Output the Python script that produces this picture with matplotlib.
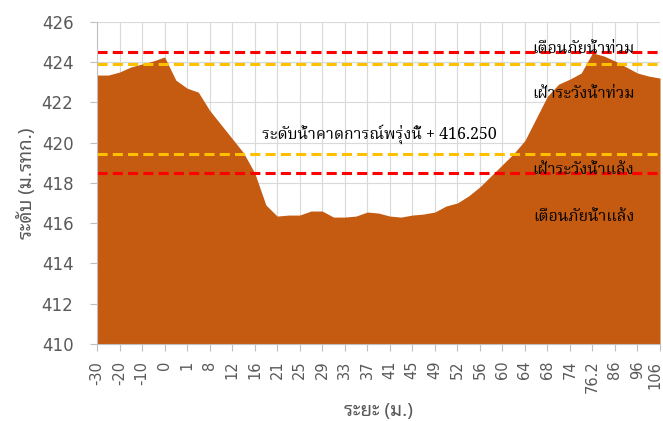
import matplotlib
matplotlib.use("Agg")
from matplotlib import pyplot as plt
from matplotlib.transforms import ScaledTranslation
import numpy as np

# ระยะ (ม.) - แสดงป้ายทุก 2 จุด
dist_labels = ['-30', '-20', '-10', '0', '1', '8', '12', '16', '21', '25', '29', '33', '37',
               '41', '45', '49', '52', '56', '60', '64', '68', '74', '76.2', '86', '96', '106']

# ระดับท้องน้ำ (ม.รทก.)
bed_level = [423.35, 423.35, 423.5, 423.75, 423.9, 424.05, 424.25, 423.1, 422.7, 422.5,
             421.6, 420.9, 420.2, 419.5, 418.5, 416.9, 416.35, 416.4, 416.4, 416.6,
             416.6, 416.3, 416.3, 416.35, 416.55, 416.5, 416.35, 416.3, 416.4, 416.45,
             416.55, 416.85, 417.0, 417.35, 417.8, 418.35, 418.9, 419.45, 420.1, 421.2,
             422.3, 422.9, 423.15, 423.45, 424.45, 424.3, 424.05, 423.75, 423.45, 423.3,
             423.2]

# เส้นระดับเตือนภัย
flood_warn = 424.5
flood_watch = 423.9
drought_watch = 419.45
drought_warn = 418.5

thai_sans = ['Noto Sans Thai Looped', 'DejaVu Sans']
thai_serif = ['Noto Serif Thai', 'Liberation Serif']
grey = '#595959'

x = np.arange(len(bed_level))

fig = plt.figure(figsize=(6.63, 4.21), dpi=100)
ax = fig.add_axes([0.1463, 0.1829, 0.8492, 0.7656])

ax.fill_between(x, 410, bed_level, color='#C55A11', lw=0, zorder=2)

for lvl, c in [(flood_warn, '#FF0000'), (flood_watch, '#FFC000'),
               (drought_watch, '#FFC000'), (drought_warn, '#FF0000')]:
    ax.axhline(lvl, color=c, lw=2.2, ls=(0, (3.3, 1.7)), zorder=3)

ax.set_xlim(0, len(bed_level) - 1)
ax.set_ylim(410, 426)
ax.set_yticks(np.arange(410, 427, 2))
ax.set_xticks(x[::2])
ax.set_xticklabels(dist_labels, rotation=90, fontsize=10.5, color=grey,
                   family=['DejaVu Sans'])
ax.tick_params(axis='y', labelsize=12, colors=grey, length=5, color='#BFBFBF', pad=12)
ax.tick_params(axis='x', length=5, color='#BFBFBF', pad=7)
for lab in ax.get_yticklabels():
    lab.set_family(['DejaVu Sans'])

# ป้ายสุดท้ายขยับเข้าด้านในเล็กน้อยไม่ให้ตกขอบ
last = ax.get_xticklabels()[-1]
last.set_transform(last.get_transform() + ScaledTranslation(-4 / 72, 0, fig.dpi_scale_trans))

ax.grid(True, color='#D9D9D9', lw=0.8)
ax.set_axisbelow(True)
for s in ['top', 'right']:
    ax.spines[s].set_visible(False)
for s in ['left', 'bottom']:
    ax.spines[s].set_color('#BFBFBF')
    ax.spines[s].set_zorder(4)

ax.set_xlabel('ระยะ (ม.)', family=thai_sans, fontsize=13.5, color=grey, fontweight='bold',
              labelpad=6)
ax.set_ylabel('ระดับ (ม.รทก.)', family=thai_sans, fontsize=13.5, color=grey, fontweight='bold',
              labelpad=4)

txt = dict(family=thai_serif, fontsize=11.5, color='black', ha='center', va='center', zorder=5)
ax.text(43.2, 424.65, 'เตือนภัยน้ำท่วม', **txt)
ax.text(43.2, 422.45, 'เฝ้าระวังน้ำท่วม', **txt)
ax.text(25.07, 420.38, 'ระดับน้ำคาดการณ์พรุ่งนี้ + 416.250', **txt)
ax.text(43.2, 418.65, 'เฝ้าระวังน้ำแล้ง', **txt)
ax.text(43.2, 416.35, 'เตือนภัยน้ำแล้ง', **txt)

fig.savefig('out.png', dpi=100)
